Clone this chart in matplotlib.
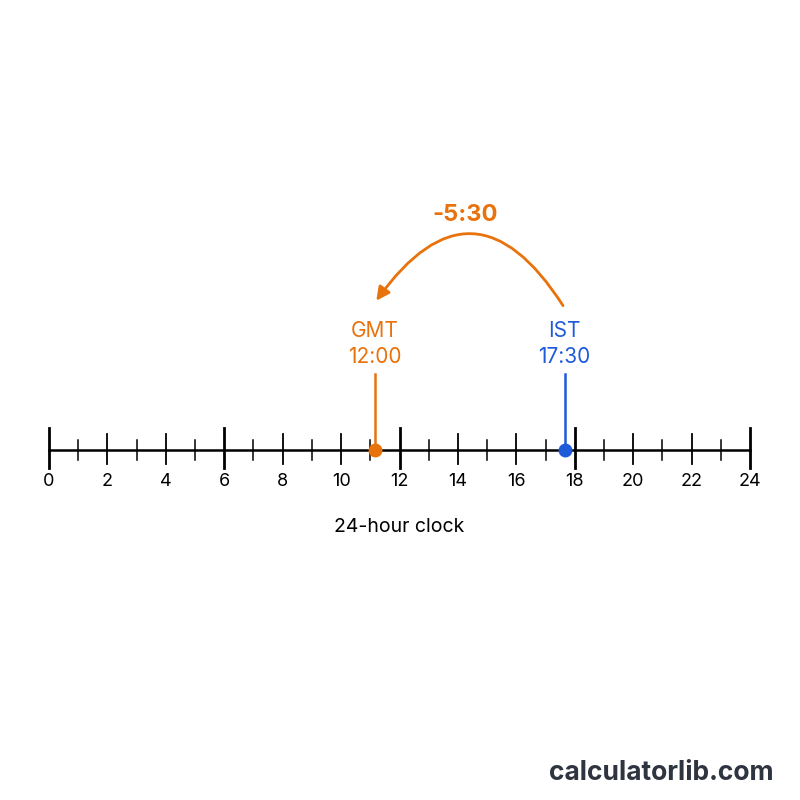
import matplotlib.pyplot as plt
from matplotlib.patches import FancyArrowPatch

# data
hours = list(range(0, 25))
major_hours = [0, 6, 12, 18, 24]
tick_labels = list(range(0, 25, 2))
gmt_pos, gmt_label = 11.15, "GMT\n12:00"
ist_pos, ist_label = 17.65, "IST\n17:30"
offset_label = "-5:30"
axis_title = "24-hour clock"

orange = "#E8720C"
blue = "#1E5BDB"

plt.rcParams['font.family'] = ['Inter', 'DejaVu Sans']
fig = plt.figure(figsize=(8, 8), dpi=100)
ax = fig.add_axes([0, 0, 1, 1])
px = 24 / 701
ax.set_xlim(-49 * px, 24 + 50 * px)
ax.set_ylim(800, 0)
ax.axis('off')

y0 = 450
ax.plot([0, 24], [y0, y0], color='black', lw=1.8)
for h in hours:
    if h in major_hours:
        ax.plot([h, h], [428, 468], color='black', lw=2)
    elif h % 2 == 0:
        ax.plot([h, h], [434, 464], color='black', lw=1.3)
    else:
        ax.plot([h, h], [440, 460], color='black', lw=1.1)
for h in tick_labels:
    ax.text(h, 482, str(h), ha='center', va='center', fontsize=13)
ax.text(12, 527, axis_title, ha='center', va='center', fontsize=14)

# markers
ax.plot([gmt_pos, gmt_pos], [y0, 374], color=orange, lw=1.8)
ax.plot(gmt_pos, y0, 'o', color=orange, ms=9)
ax.text(gmt_pos, 344, gmt_label, ha='center', va='center', color=orange,
        fontsize=15, linespacing=1.35)
ax.plot([ist_pos, ist_pos], [y0, 374], color=blue, lw=1.8)
ax.plot(ist_pos, y0, 'o', color=blue, ms=9)
ax.text(ist_pos, 344, ist_label, ha='center', va='center', color=blue,
        fontsize=15, linespacing=1.35)

arrow = FancyArrowPatch((ist_pos, 308), (gmt_pos, 303),
                        connectionstyle="arc3,rad=0.75", arrowstyle='-|>',
                        mutation_scale=20, color=orange, lw=2)
ax.add_patch(arrow)
ax.text((ist_pos + gmt_pos) / 2 - 0.15, 215, offset_label, ha='center', va='center',
        color=orange, fontsize=17, fontweight='bold')

ax.text(24.8, 773, "calculatorlib.com", ha='right', va='center', color='#2E3440',
        fontsize=19, fontweight='bold')

fig.savefig("out.png", dpi=100, facecolor='white')
